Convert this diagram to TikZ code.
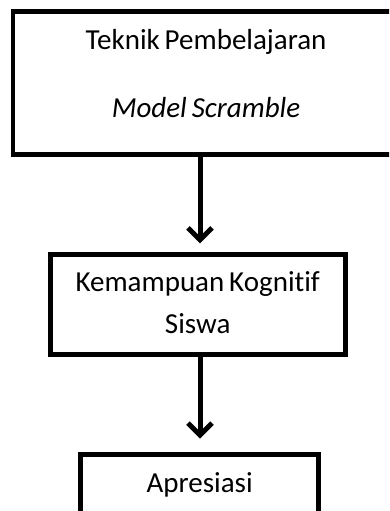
\documentclass[tikz,border=0pt]{standalone}
\usepackage{fontspec}
\setmainfont{Carlito}[Ligatures=NoCommon, WordSpace=0.75]
\usepackage{tikz}
\usetikzlibrary{arrows.meta,positioning}

\begin{document}
\begin{tikzpicture}[x=1pt, y=-1pt,
      box/.style={rectangle, draw=black, line width=4.8pt, align=center, inner sep=0pt, font=\fontsize{29}{34}\selectfont},
      arr/.style={-{Straight Barb[length=12pt, width=24pt]}, line width=5pt, color=black}
    ]
      \useasboundingbox (0,0) rectangle (389,511);
      \clip (0,0) rectangle (389,511);

      % Boxes
      \node[box, minimum width=386pt, minimum height=142.7pt, text depth=20pt] (teknik) at (206, 83) {Teknik Pembelajaran\\[34pt]\textit{Model Scramble}};
      \node[box, minimum width=295pt, minimum height=99.4pt, text depth=3pt] (kognitif) at (197.7, 304.5) {Kemampuan Kognitif\\[8pt]Siswa};
      \node[box, minimum width=238.3pt, text height=22pt, text depth=40pt, inner ysep=16pt, anchor=north] (apresiasi) at (199.7, 451.7) {Apresiasi};

      % Paths
      \draw[arr, shorten >=9pt] (teknik.south -| 200,0) -- (kognitif.north -| 200,0);
      \draw[arr, shorten >=13pt] (kognitif.south -| 200,0) -- (apresiasi.north -| 200,0);
    \end{tikzpicture}
\end{document}
